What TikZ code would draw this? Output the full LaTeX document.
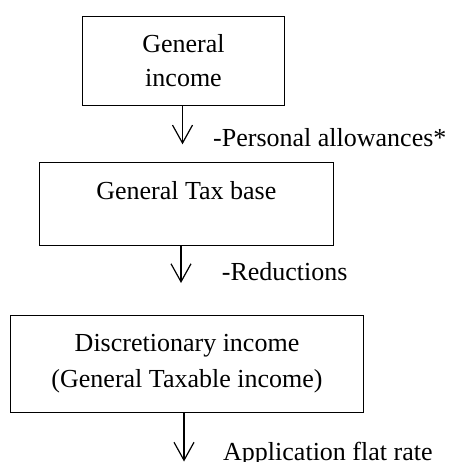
\documentclass[tikz,border=0pt]{standalone}
\usepackage{fontspec}
\setmainfont{Liberation Serif}
\usetikzlibrary{arrows.meta}
\begin{document}
\begin{tikzpicture}[x=1bp,y=-1bp,
  box/.style={draw,line width=0.9bp,rectangle,inner sep=0pt,align=center,
    font=\fontsize{26bp}{34bp}\selectfont},
  txt/.style={inner sep=0pt,font=\fontsize{26bp}{34bp}\selectfont},
  arr/.style={line width=1.2bp,-{Straight Barb[length=18bp,width=20bp,line width=1.2bp]}}]
\useasboundingbox (0,0) rectangle (451,462);
% boxes
\node[box,minimum width=201.6bp,minimum height=89.7bp] (b1) at (183.5,60.85) {General\\income};
\node[box,minimum width=294bp,minimum height=83bp] (b2) at (186.3,203.5) {};
\node[txt,anchor=base] (t2) at (186.3,199.3) {General Tax base};
\node[box,minimum width=352.6bp,minimum height=97bp,
  font=\fontsize{26bp}{36bp}\selectfont] (b3) at (187,363.5) {Discretionary income\\(General Taxable income)};
% arrow ends
\coordinate (e1) at (182.5,144.3);
\coordinate (e2) at (181,283);
\coordinate (e3) at (184,461.5);
\draw[arr] (b1.south -| e1) -- (e1);
\draw[arr] (b2.south -| e2) -- (e2);
\draw[arr] (b3.south -| e3) -- (e3);
% labels
\node[txt,anchor=base west] (l1) at (213,146.7) {-Personal allowances*};
\node[txt,anchor=base west] (l2) at (221.7,280) {-Reductions};
\node[txt,anchor=base west] (l3) at (223,460) {Application flat rate};
\end{tikzpicture}
\end{document}
